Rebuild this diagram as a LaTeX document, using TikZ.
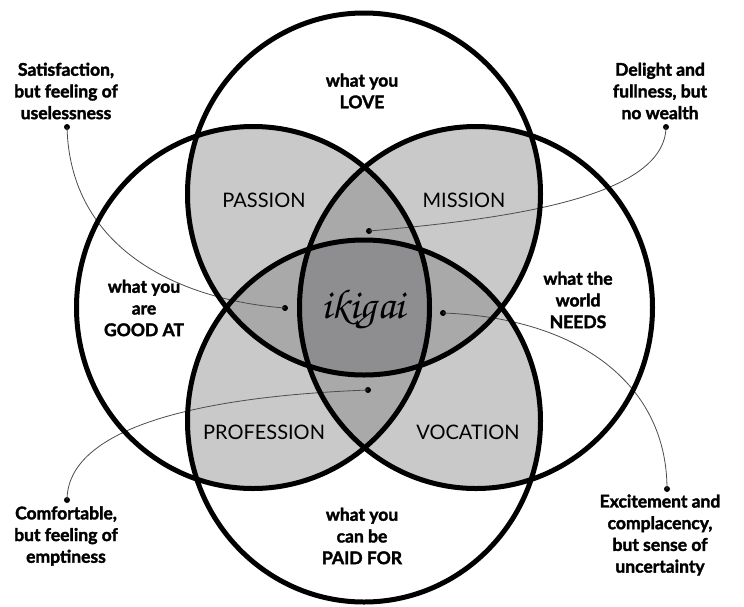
\documentclass[tikz,border=0pt]{standalone}
\usepackage{fontspec}
\setmainfont{Lato}[BoldFeatures={FakeBold=2}]
\definecolor{gtwo}{HTML}{C9C9C9}
\definecolor{gthree}{HTML}{A9A9A9}
\definecolor{gfour}{HTML}{8E8E90}
\newcommand\ellT{(364,194) ellipse [x radius=176.5pt, y radius=181pt]}
\newcommand\ellB{(364,421) ellipse [x radius=176.5pt, y radius=181pt]}
\newcommand\ellL{(253,307.5) ellipse [x radius=176.5pt, y radius=181pt]}
\newcommand\ellR{(476,307.5) ellipse [x radius=176.5pt, y radius=181pt]}
\tikzset{
  lbl/.style={font=\fontsize{17.5}{21.7}\selectfont\bfseries, align=center, text=black, inner sep=0pt},
  region/.style={font=\fontsize{20}{22}\selectfont, align=center, text=black, inner sep=0pt},
  dotn/.style={circle, fill=black, inner sep=0pt, minimum size=6pt},
  conn/.style={draw=black!70, line width=0.8pt},
  ring/.style={draw=black, line width=5pt},
}
\begin{document}
\begin{tikzpicture}[x=1pt,y=-1pt]
\useasboundingbox (0,0) rectangle (744,606);
\fill[white] (0,0) rectangle (744,606);
% pairwise overlaps
\begin{scope}\clip \ellT; \fill[gtwo] \ellL; \fill[gtwo] \ellR; \fill[gtwo] \ellB; \end{scope}
\begin{scope}\clip \ellL; \fill[gtwo] \ellR; \fill[gtwo] \ellB; \end{scope}
\begin{scope}\clip \ellR; \fill[gtwo] \ellB; \end{scope}
% triple overlaps
\begin{scope}\clip \ellT; \clip \ellL; \fill[gthree] \ellR; \fill[gthree] \ellB; \end{scope}
\begin{scope}\clip \ellT; \clip \ellR; \fill[gthree] \ellB; \end{scope}
\begin{scope}\clip \ellL; \clip \ellR; \fill[gthree] \ellB; \end{scope}
% quadruple
\begin{scope}\clip \ellT; \clip \ellL; \clip \ellR; \fill[gfour] \ellB; \end{scope}

% connectors
\node[dotn] (s1) at (67,127) {};
\node[dotn] (e1) at (285,308) {};
\node[dotn] (s2) at (666,127) {};
\node[dotn] (e2) at (369,231) {};
\node[dotn] (s3) at (67,500) {};
\node[dotn] (e3) at (368,390) {};
\node[dotn] (s4) at (667,489) {};
\node[dotn] (e4) at (443,313) {};
\draw[conn] (s1.center) .. controls (70,250) and (180,300) .. (e1.center);
\draw[conn] (s2.center) .. controls (665,195) and (520,218) .. (e2.center);
\draw[conn] (s3.center) .. controls (67,440) and (160,398) .. (e3.center);
\draw[conn] (s4.center) .. controls (667,385) and (580,318) .. (e4.center);

% rings
\draw[ring] \ellT;
\draw[ring] \ellB;
\draw[ring] \ellL;
\draw[ring] \ellR;

% circle labels
\node[lbl] (love) at (362,91) {what you\\LOVE};
\node[lbl] (good) at (144,308) {what you\\are\\GOOD AT};
\node[lbl] (needs) at (578,300) {what the\\world\\NEEDS};
\node[lbl] (paid) at (362,536) {what you\\can be\\PAID FOR};

% region labels
\node[region] (passion) at (264,200) {PASSION};
\node[region] (mission) at (464,200) {MISSION};
\node[region] (profession) at (264,432) {PROFESSION};
\node[region] (vocation) at (468,432) {VOCATION};
\node[anchor=base, inner sep=0pt, font=\usefont{OT1}{pzc}{mb}{it}\fontsize{42}{42}\selectfont] (ikigai) at (363,318) {ikigai};

% corner notes
\node[lbl] (sat) at (66,91) {Satisfaction,\\but feeling of\\uselessness};
\node[lbl] (del) at (660,91) {Delight and\\fullness, but\\no wealth};
\node[lbl] (com) at (66,536) {Comfortable,\\but feeling of\\emptiness};
\node[lbl] (exc) at (660,535) {Excitement and\\complacency,\\but sense of\\uncertainty};
\end{tikzpicture}
\end{document}
